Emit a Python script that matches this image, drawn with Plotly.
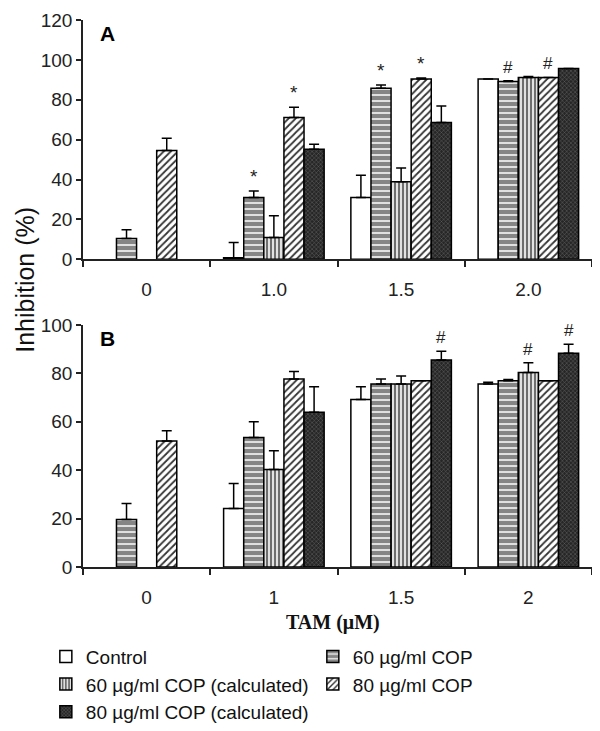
import plotly.graph_objects as go

# dose groups (TAM, uM) as printed under each panel
cats_a = ['0', '1.0', '1.5', '2.0']
cats_b = ['0', '1', '1.5', '2']

series = ['Control', '60 µg/ml COP', '60 µg/ml COP (calculated)',
          '80 µg/ml COP', '80 µg/ml COP (calculated)']

# panel A - inhibition (%) and upper error
a_ctrl = [None, 0.8, 31.0, 90.4]
a_ctrl_err = [0, 7.6, 11.2, 0]
a_60 = [10.4, 31.0, 85.8, 89.2]
a_60_err = [4.4, 3.3, 1.6, 0.4]
a_60c = [None, 10.9, 38.9, 91.2]
a_60c_err = [0, 10.9, 6.9, 0.5]
a_80 = [54.6, 71.1, 90.4, 91.2]
a_80_err = [6.1, 5.1, 0.5, 0]
a_80c = [None, 55.2, 68.6, 95.7]
a_80c_err = [0, 2.5, 8.3, 0]

# panel B
b_ctrl = [None, 24.2, 69.2, 75.6]
b_ctrl_err = [0, 10.3, 5.3, 0.7]
b_60 = [19.6, 53.5, 75.6, 77.0]
b_60_err = [6.6, 6.5, 2.1, 0.5]
b_60c = [None, 40.3, 75.6, 80.4]
b_60c_err = [0, 7.7, 3.3, 4.0]
b_80 = [52.1, 77.7, 77.0, 77.0]
b_80_err = [4.2, 3.1, 0, 0]
b_80c = [None, 63.9, 85.5, 88.3]
b_80c_err = [0, 10.6, 3.7, 3.8]

# significance marks: (group index, series index, symbol)
a_marks = [(1, 1, '*'), (1, 3, '*'), (2, 1, '*'), (2, 3, '*'), (3, 1, '#'), (3, 3, '#')]
b_marks = [(2, 4, '#'), (3, 2, '#'), (3, 4, '#')]

patterns = [
    dict(shape=''),
    dict(shape='-', bgcolor='#858585', fgcolor='white', size=6, solidity=0.25, fillmode='replace'),
    dict(shape='|', bgcolor='#6e6e6e', fgcolor='white', size=4, solidity=0.4, fillmode='replace'),
    dict(shape='/', bgcolor='white', fgcolor='#333333', size=5, solidity=0.35, fillmode='replace'),
    dict(shape='x', bgcolor='#262626', fgcolor='#666666', size=3, solidity=0.3, fillmode='replace'),
]

fig = go.Figure()

panel_a = [(a_ctrl, a_ctrl_err), (a_60, a_60_err), (a_60c, a_60c_err), (a_80, a_80_err), (a_80c, a_80c_err)]
panel_b = [(b_ctrl, b_ctrl_err), (b_60, b_60_err), (b_60c, b_60c_err), (b_80, b_80_err), (b_80c, b_80c_err)]

for i, name in enumerate(series):
    for cats, (vals, errs), xa, ya, show in [(cats_a, panel_a[i], 'x', 'y', True),
                                              (cats_b, panel_b[i], 'x2', 'y2', False)]:
        fig.add_trace(go.Bar(
            x=cats, y=vals, name=name, xaxis=xa, yaxis=ya,
            showlegend=show, legendgroup=name,
            marker=dict(color='white', line=dict(color='black', width=1.5),
                        pattern=patterns[i]),
            error_y=dict(type='data', array=errs, arrayminus=[0] * len(errs),
                         symmetric=False, color='black', thickness=1.5, width=5,
                         visible=True),
        ))

bargap = 0.21
bw = (1 - bargap) / 5
ann = []
for marks, panel, xa, ya in [(a_marks, panel_a, 'x', 'y'), (b_marks, panel_b, 'x2', 'y2')]:
    for g, s, sym in marks:
        top = panel[s][0][g] + panel[s][1][g]
        ann.append(dict(x=g + (s - 2) * bw, y=top, xref=xa, yref=ya, text=sym,
                        showarrow=False, yanchor='bottom', yshift=2,
                        font=dict(size=17 if sym == '#' else 19, family='Arial', color='#222')))

ann += [
    dict(x=0.03, y=120, xref='paper', yref='y', text='<b>A</b>', showarrow=False,
         xanchor='left', yanchor='top', font=dict(size=21, family='Arial', color='black')),
    dict(x=0.03, y=100, xref='paper', yref='y2', text='<b>B</b>', showarrow=False,
         xanchor='left', yanchor='top', font=dict(size=21, family='Arial', color='black')),
    dict(x=-0.114, y=0.525, xref='paper', yref='paper', text='Inhibition (%)', showarrow=False,
         xanchor='center', yanchor='middle', textangle=-90,
         font=dict(size=25, family='Arial', color='#111')),
    dict(x=0.491, y=-0.102, xref='paper', yref='paper', text='<b>TAM (μM)</b>', showarrow=False,
         xanchor='center', yanchor='middle',
         font=dict(size=20, family='Liberation Serif', color='#111')),
]

xcommon = dict(type='category', tickson='boundaries', ticks='outside', ticklen=6,
               tickwidth=1.5, tickcolor='#222', showline=True, linecolor='#222',
               linewidth=1.5, showgrid=False, ticklabelstandoff=12,
               tickfont=dict(size=19, family='Arial', color='#222'))
ycommon = dict(ticks='outside', ticklen=5, tickwidth=1.5, tickcolor='#222',
               showline=True, linecolor='#222', linewidth=1.5, showgrid=False,
               zeroline=False, ticklabeloverflow='allow',
               tickfont=dict(size=19, family='Arial', color='#222'))

# page body adds an 8px margin, so the figure is 8px smaller than the window
fig.update_layout(
    width=592, height=723,
    margin=dict(l=75, r=8, t=12, b=164, autoexpand=False),
    plot_bgcolor='white', paper_bgcolor='white',
    barmode='group', bargap=bargap, bargroupgap=0,
    xaxis=dict(anchor='y', domain=[0, 1], **xcommon),
    yaxis=dict(anchor='x', domain=[0.5625, 1.0], range=[0, 120], dtick=20, **ycommon),
    xaxis2=dict(anchor='y2', domain=[0, 1], **xcommon),
    yaxis2=dict(anchor='x2', domain=[0, 0.4424], range=[0, 100], dtick=20, **ycommon),
    legend=dict(orientation='h', x=-0.073, xanchor='left', y=-0.129, yanchor='top',
                entrywidth=222, entrywidthmode='pixels', itemwidth=30,
                font=dict(size=19, family='Arial', color='#111'), traceorder='normal'),
    annotations=ann,
    showlegend=True,
)

fig.write_html('out.html')
